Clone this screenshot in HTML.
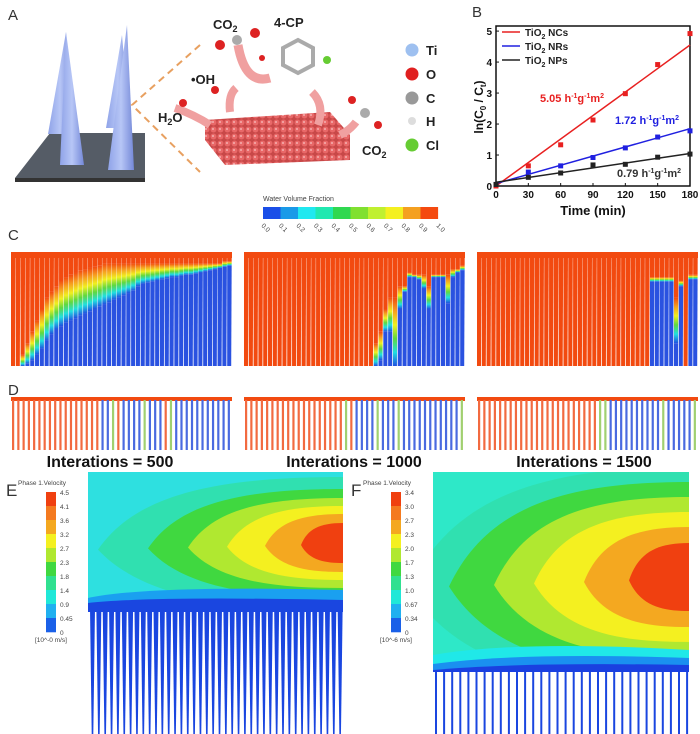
<!DOCTYPE html>
<html><head><meta charset="utf-8"><style>
body{margin:0;background:#fff;font-family:"Liberation Sans",sans-serif}
svg{display:block}
</style></head><body>
<svg id="fig" width="700" height="734" viewBox="0 0 700 734" xmlns="http://www.w3.org/2000/svg">
<defs>
<linearGradient id="cone" x1="0" x2="1" y1="0" y2="0"><stop offset="0" stop-color="#8fa3e8"/><stop offset="0.5" stop-color="#b7c6f6"/><stop offset="1" stop-color="#7488d8"/></linearGradient>
<linearGradient id="trans" x1="0" x2="0" y1="0" y2="1"><stop offset="0" stop-color="#f24a10"/><stop offset="0.2" stop-color="#f6a020"/><stop offset="0.4" stop-color="#f0f020"/><stop offset="0.6" stop-color="#60d840"/><stop offset="0.8" stop-color="#20e0e0"/><stop offset="1" stop-color="#2050e0"/></linearGradient>
<pattern id="slab" width="7" height="7" patternUnits="userSpaceOnUse"><rect width="7" height="7" fill="#c84848"/><circle cx="3.5" cy="3.5" r="3" fill="#e86868"/><circle cx="3" cy="3" r="1" fill="#f4b0b0"/></pattern>
<clipPath id="clipE"><rect x="88" y="472" width="255" height="140"/></clipPath>
<clipPath id="clipF"><rect x="433" y="472" width="256" height="200"/></clipPath>
</defs>

<!-- Panel A -->
<g>
<text x="8" y="20" font-size="15" fill="#333">A</text>
<polygon points="15,178 145,178 145,133 50,133" fill="#555c66"/>
<polygon points="15,178 145,178 145,182 15,182" fill="#333"/>
<polygon points="48,134 66,32 72,134" fill="url(#cone)"/>
<polygon points="106,128 122,35 130,128" fill="url(#cone)"/>
<polygon points="60,165 66,32 84,165" fill="url(#cone)"/>
<polygon points="108,170 127,25 134,170" fill="url(#cone)"/>
<path d="M200,45 L132,105 L200,172" fill="none" stroke="#e8a060" stroke-width="2" stroke-dasharray="7,5"/>
<polygon points="205,120 330,112 350,135 350,160 225,165 205,140" fill="url(#slab)"/>
<path d="M238,45 Q245,85 270,78" fill="none" stroke="#f0a0a0" stroke-width="9"/>
<path d="M230,112 Q228,95 236,88" fill="none" stroke="#f0a0a0" stroke-width="8"/>
<path d="M312,92 Q325,105 318,125" fill="none" stroke="#f0a0a0" stroke-width="8"/>
<path d="M175,108 Q195,115 210,125" fill="none" stroke="#f0a0a0" stroke-width="8"/>
<path d="M340,135 Q350,130 356,122" fill="none" stroke="#f0a0a0" stroke-width="8"/>
<circle cx="220" cy="45" r="5" fill="#d22"/><circle cx="237" cy="40" r="5" fill="#aaa"/><circle cx="255" cy="33" r="5" fill="#d22"/>
<polygon points="283,48 298,40 313,48 313,65 298,73 283,65" fill="none" stroke="#aaa" stroke-width="4"/>
<circle cx="327" cy="60" r="4" fill="#6c3"/><circle cx="262" cy="58" r="3" fill="#d22"/>
<circle cx="183" cy="103" r="4" fill="#d22"/><circle cx="215" cy="90" r="4" fill="#d22"/>
<circle cx="352" cy="100" r="4" fill="#d22"/><circle cx="365" cy="113" r="5" fill="#aaa"/><circle cx="378" cy="125" r="4" fill="#d22"/>
<g font-weight="bold" font-size="13" fill="#222">
<text x="213" y="29">CO<tspan font-size="9" dy="3">2</tspan></text>
<text x="274" y="27">4-CP</text>
<text x="191" y="84">•OH</text>
<text x="158" y="122">H<tspan font-size="9" dy="3">2</tspan><tspan dy="-3">O</tspan></text>
<text x="362" y="155">CO<tspan font-size="9" dy="3">2</tspan></text>
</g>
<g font-weight="bold" font-size="13" fill="#222">
<circle cx="412" cy="50" r="6.5" fill="#9ec0f0"/><text x="426" y="55">Ti</text>
<circle cx="412" cy="74" r="6.5" fill="#e02020"/><text x="426" y="79">O</text>
<circle cx="412" cy="98" r="6.5" fill="#999"/><text x="426" y="103">C</text>
<circle cx="412" cy="121" r="4" fill="#ddd"/><text x="426" y="126">H</text>
<circle cx="412" cy="145" r="6.5" fill="#6c3"/><text x="426" y="150">Cl</text>
</g>
</g>

<!-- Panel B -->
<g id="panelB">
<text x="472" y="17" font-size="15" fill="#333">B</text>
</g>

<!-- Water volume colorbar -->
<g id="wvf">
<text x="263" y="201" font-size="7" fill="#444">Water Volume Fraction</text>
</g>

<text x="8" y="240" font-size="15" fill="#333">C</text>
<text x="8" y="395" font-size="15" fill="#333">D</text>
<g id="panelC"></g>
<g id="panelD"></g>

<g font-weight="bold" font-size="16" fill="#111" text-anchor="middle">
<text x="110" y="467">Interations = 500</text>
<text x="354" y="467">Interations = 1000</text>
<text x="584" y="467">Interations = 1500</text>
</g>
<text x="6" y="496" font-size="17" fill="#333">E</text>
<text x="351" y="496" font-size="17" fill="#333">F</text>
<g id="panelE"></g>
<g id="panelF"></g>
</svg>
<script>
const NS="http://www.w3.org/2000/svg";
function mk(tag,attrs,parent){const e=document.createElementNS(NS,tag);for(const k in attrs)e.setAttribute(k,attrs[k]);parent.appendChild(e);return e;}

// ---- Panel B data ----
const times=[0,30,60,90,120,150,180];
const ncVals=[0,0.65,1.33,2.13,2.98,3.92,4.92];
const nrVals=[0.05,0.45,0.65,0.92,1.23,1.58,1.78];
const npVals=[0.05,0.28,0.42,0.68,0.70,0.93,1.03];
const fitNC=[-0.12,4.55];
const fitNR=[0.08,1.85];
const fitNP=[0.12,1.05];
const xTicks=[0,30,60,90,120,150,180];
const yTicks=[0,1,2,3,4,5];
const B=document.getElementById('panelB');
const bx0=496,bx1=690,by0=186,by1=28;
const X=t=>bx0+(t/180)*(bx1-bx0);
const Y=v=>by0-(v/5.1)*(by0-by1);
let r=mk('rect',{x:bx0,y:by1-2,width:bx1-bx0,height:by0-by1+2,fill:'none',stroke:'#111','stroke-width':1.5},B);

xTicks.forEach(t=>{mk('line',{x1:X(t),x2:X(t),y1:by0,y2:by0-3,stroke:'#111'},B);
 const tx=mk('text',{x:X(t),y:by0+12,'font-size':10,'font-weight':'bold','text-anchor':'middle',fill:'#111'},B);tx.textContent=t;
 });
yTicks.forEach(v=>{mk('line',{x1:bx0,x2:bx0+3,y1:Y(v),y2:Y(v),stroke:'#111'},B);
 const tx=mk('text',{x:bx0-4,y:Y(v)+4,'font-size':10,'font-weight':'bold','text-anchor':'end',fill:'#111'},B);tx.textContent=v;
 });
let xt=mk('text',{x:593,y:215,'font-size':13,'font-weight':'bold','text-anchor':'middle',fill:'#111'},B);xt.textContent='Time (min)';

let yt=mk('text',{x:0,y:0,'font-size':12,'font-weight':'bold','text-anchor':'middle',fill:'#111',transform:'translate(483,107) rotate(-90)'},B);
yt.innerHTML='ln(C<tspan font-size="8" dy="3">0</tspan><tspan dy="-3"> / C</tspan><tspan font-size="8" dy="3">t</tspan><tspan dy="-3">)</tspan>';

[[ncVals,fitNC,'#e82020','series-ncs'],[nrVals,fitNR,'#2020e0','series-nrs'],[npVals,fitNP,'#222','series-nps']].forEach(([vals,fit,col,nm])=>{
 const g=mk('g',{},B);
 const fl=mk('line',{x1:X(0),y1:Y(Math.max(fit[0],0)),x2:X(180),y2:Y(fit[1]),stroke:col,'stroke-width':1.5},g);
 
 vals.forEach((v,i)=>{const p=mk('rect',{x:X(times[i])-2.5,y:Y(v)-2.5,width:5,height:5,fill:col},g);
  });
});
const legNames=['NCs','NRs','NPs'],legCols=['#e82020','#2020e0','#222'];
legNames.forEach((n,i)=>{const y=32+i*14;
 const g=mk('g',{},B);
 mk('line',{x1:502,x2:520,y1:y,y2:y,stroke:legCols[i],'stroke-width':1.5},g);
 const t=mk('text',{x:525,y:y+4,'font-size':10,'font-weight':'bold',fill:'#222'},g);
 t.innerHTML='TiO<tspan font-size="7" dy="3">2</tspan><tspan dy="-3"> '+n+'</tspan>';});
[['5.05',540,102,'#e82020'],['1.72',615,124,'#2020e0'],['0.79',617,177,'#333']].forEach(([v,x,y,c])=>{
 const t=mk('text',{x:x,y:y,'font-size':11,'font-weight':'bold',fill:c,'text-anchor':'start'},B);
 t.innerHTML=v+' h<tspan font-size="7" dy="-4">-1</tspan><tspan dy="4">g</tspan><tspan font-size="7" dy="-4">-1</tspan><tspan dy="4">m</tspan><tspan font-size="7" dy="-4">2</tspan>';
 });

// ---- water volume colorbar ----
const wvfColors=['#1a4ee8','#1a9ae8','#20e8f0','#20e8b0','#30d850','#80e030','#c0f030','#f4f020','#f4a020','#f44a10'];
const wvfTicks=['0.0','0.1','0.2','0.3','0.4','0.5','0.6','0.7','0.8','0.9','1.0'];
const W=document.getElementById('wvf');
wvfColors.forEach((c,i)=>{const s=mk('rect',{x:263+i*17.5,y:207,width:17.6,height:12,fill:c},W);
 });
wvfTicks.forEach((t,i)=>{const x=263+i*17.5;const e=mk('text',{x:0,y:0,'font-size':6.5,fill:'#444',transform:`translate(${x-2},226) rotate(45)`},W);e.textContent=t;
 });

// ---- Panel C ----
const cRed1=[1,1,0.9,0.8,0.7,0.6,0.5,0.4,0.35,0.3,0.25,0.22,0.2,0.18,0.16,0.15,0.14,0.13,0.12,0.1,0.1,0.1,0.1,0.1,0.1,0.1,0.1,0.1,0.1,0.1,0.1,0.1,0.1,0.1,0.1,0.1,0.1,0.1,0.1,0.1,0.1,0.1,0.1,0.1,0.08,0.08];
const cBlue1=[1,1,1,0.98,0.95,0.9,0.85,0.78,0.72,0.68,0.65,0.62,0.6,0.58,0.56,0.54,0.52,0.5,0.48,0.46,0.44,0.42,0.4,0.38,0.36,0.34,0.3,0.28,0.27,0.26,0.25,0.24,0.23,0.22,0.22,0.21,0.2,0.2,0.19,0.18,0.17,0.16,0.15,0.14,0.13,0.12];
const cRed2=[1,1,1,1,1,1,1,1,1,1,1,1,1,1,1,1,1,1,1,1,1,1,1,1,1,1,1,0.8,0.7,0.5,0.4,0.4,0.3,0.3,0.18,0.2,0.2,0.2,0.3,0.2,0.2,0.2,0.2,0.15,0.15,0.12];
const cBlue2=[1,1,1,1,1,1,1,1,1,1,1,1,1,1,1,1,1,1,1,1,1,1,1,1,1,1,1,1,0.95,0.7,0.7,1,0.5,0.35,0.22,0.22,0.24,0.32,0.5,0.22,0.22,0.22,0.45,0.22,0.18,0.16];
const cRed3=[1,1,1,1,1,1,1,1,1,1,1,1,1,1,1,1,1,1,1,1,1,1,1,1,1,1,1,1,1,1,1,1,1,1,1,1,0.22,0.22,0.22,0.22,0.22,0.4,0.25,1,0.2,0.2];
const cBlue3=[1,1,1,1,1,1,1,1,1,1,1,1,1,1,1,1,1,1,1,1,1,1,1,1,1,1,1,1,1,1,1,1,1,1,1,1,0.26,0.26,0.26,0.26,0.26,0.8,0.3,1,0.24,0.24];
const C=document.getElementById('panelC');
const cPanels=[[11,cRed1,cBlue1],[244,cRed2,cBlue2],[477,cRed3,cBlue3]];
const cTop=252,cH=114,cW=221;
cPanels.forEach(([x0,reds,blues],pi)=>{
 const g=mk('g',{},C);
 const n=reds.length,w=cW/n;
 mk('rect',{x:x0,y:cTop,width:cW,height:6,fill:'#f24a10'},g);
 reds.forEach((re,i)=>{const x=x0+i*w;const be=blues[i];
  const col=mk('g',{},g);
  const yR=cTop+re*cH,yB=cTop+be*cH;
  mk('rect',{x:x,y:cTop,width:w,height:Math.min(re,be)*cH,fill:'#f24a10'},col);
  if(be>re) mk('rect',{x:x,y:yR,width:w,height:yB-yR,fill:'url(#trans)'},col);
  if(be<1) mk('rect',{x:x,y:yB,width:w,height:cTop+cH-yB,fill:'#2a52e0'},col);
  mk('polygon',{points:`${x+w-0.3},${cTop+6} ${x+w+0.3},${cTop+6} ${x+w+0.8},${cTop+cH} ${x+w-0.8},${cTop+cH}`,fill:'#fff'},col);
 });
});

// ---- Panel D ---- (0=red,1=blue,2=mixed)
const d1=[0,0,0,0,0,0,0,0,0,0,0,0,0,0,0,0,0,1,1,2,0,1,1,1,1,2,1,1,1,0,2,1,1,1,1,1,1,1,1,1,1,1];
const d2=[0,0,0,0,0,0,0,0,0,0,0,0,0,0,0,0,0,0,0,2,0,1,1,1,1,2,1,1,1,2,1,1,1,1,1,1,1,1,1,1,1,2];
const d3=[0,0,0,0,0,0,0,0,0,0,0,0,0,0,0,0,0,0,0,0,0,0,0,2,2,1,1,1,1,1,1,1,1,1,1,2,1,1,1,1,1,2];
const dCols=['#f26a40','#4a6ae0','#a0d070'];
const D=document.getElementById('panelD');
[[11,d1],[244,d2],[477,d3]].forEach(([x0,arr],pi)=>{
 const g=mk('g',{},D);
 mk('rect',{x:x0,y:397,width:221,height:4,fill:'#f24a10'},g);
 const w=221/arr.length;
 arr.forEach((v,i)=>{const l=mk('rect',{x:x0+i*w+1,y:400,width:2.2,height:50,fill:dCols[v]},g);
  });
});

// ---- Panels E/F velocity contours ----
const eLevels=['4.5','4.1','3.6','3.2','2.7','2.3','1.8','1.4','0.9','0.45','0'];
const fLevels=['3.4','3.0','2.7','2.3','2.0','1.7','1.3','1.0','0.67','0.34','0'];
const cbColors=['#f04010','#f47a20','#f4a820','#f4f020','#b0e830','#40d840','#30e090','#20e8d8','#20b0f0','#1a60e8'];
function colorbar(parent,x,labels,nm){
 const g=mk('g',{},parent);
 const t=mk('text',{x:x-28,y:485,'font-size':6.5,fill:'#444'},g);t.textContent='Phase 1.Velocity';
 const top=492,h=140,sh=h/cbColors.length;
 cbColors.forEach((c,i)=>{mk('rect',{x:x,y:top+i*sh,width:10,height:sh+0.3,fill:c},g);});
 labels.forEach((l,i)=>{const e=mk('text',{x:x+14,y:top+i*sh+3,'font-size':6.5,fill:'#444'},g);e.textContent=l;
  });
 const u=mk('text',{x:x-11,y:top+h+10,'font-size':6.5,fill:'#444'},g);u.textContent=nm==='velocity-colorbar-e'?'[10^-0 m/s]':'[10^-6 m/s]';
}
const eRx=[245,195,155,116,78,42];
const eRy=[66,54,45,37,29,20];
const fRx=[280,240,195,155,105,60];
const fRy=[110,95,80,65,50,34];
const bandCols=['#30e0b0','#40d840','#b0e830','#f4f020','#f4a820','#f04010'];
function contour(parent,clip,x0,x1,y0,y1,cx,cy,rx,ry,bg){
 const g=mk('g',{'clip-path':`url(#${clip})`},parent);
 mk('rect',{x:x0,y:y0,width:x1-x0,height:y1-y0,fill:bg},g);
 rx.forEach((r,i)=>{const e=mk('path',{d:`M${cx},${cy-ry[i]} C${cx-r*0.55},${cy-ry[i]} ${cx-r*0.85},${cy-ry[i]*0.7} ${cx-r},${cy+ry[i]*0.1} C${cx-r*0.8},${cy+ry[i]*0.9} ${cx-r*0.4},${cy+ry[i]} ${cx},${cy+ry[i]} Z`,fill:bandCols[i]},g);
  });
 return g;
}
const E=document.getElementById('panelE');
colorbar(E,46,eLevels,'velocity-colorbar-e');
contour(E,'clipE',88,343,472,612,343,543,eRx,eRy,'#2ee0e0');
mk('path',{d:'M88,598 Q150,585 343,590 L343,612 L88,612 Z',fill:'#1aa0f0'},E);
mk('path',{d:'M88,603 Q150,596 343,600 L343,612 L88,612 Z',fill:'#1a46e0'},E);
for(let i=0;i<40;i++){const x=90+i*6.35;const l=mk('polygon',{points:`${x},608 ${x+5},608 ${x+3.3},734 ${x+1.7},734`,fill:'#1a46e0'},E);
 }
const F=document.getElementById('panelF');
colorbar(F,391,fLevels,'velocity-colorbar-f');
contour(F,'clipF',433,689,472,672,689,577,fRx,fRy,'#2ee8c8');
mk('path',{d:'M433,655 Q520,640 689,650 L689,672 L433,672 Z',fill:'#20e8e8'},F);
mk('path',{d:'M433,664 Q520,652 689,658 L689,672 L433,672 Z',fill:'#1a90f0'},F);
mk('path',{d:'M433,670 Q520,662 689,665 L689,672 L433,672 Z',fill:'#1a40e0'},F);
for(let i=0;i<32;i++){const x=435+i*8.1;const l=mk('rect',{x:x,y:672,width:2,height:62,fill:'#1a46e0'},F);
 }
</script>
</body></html>
